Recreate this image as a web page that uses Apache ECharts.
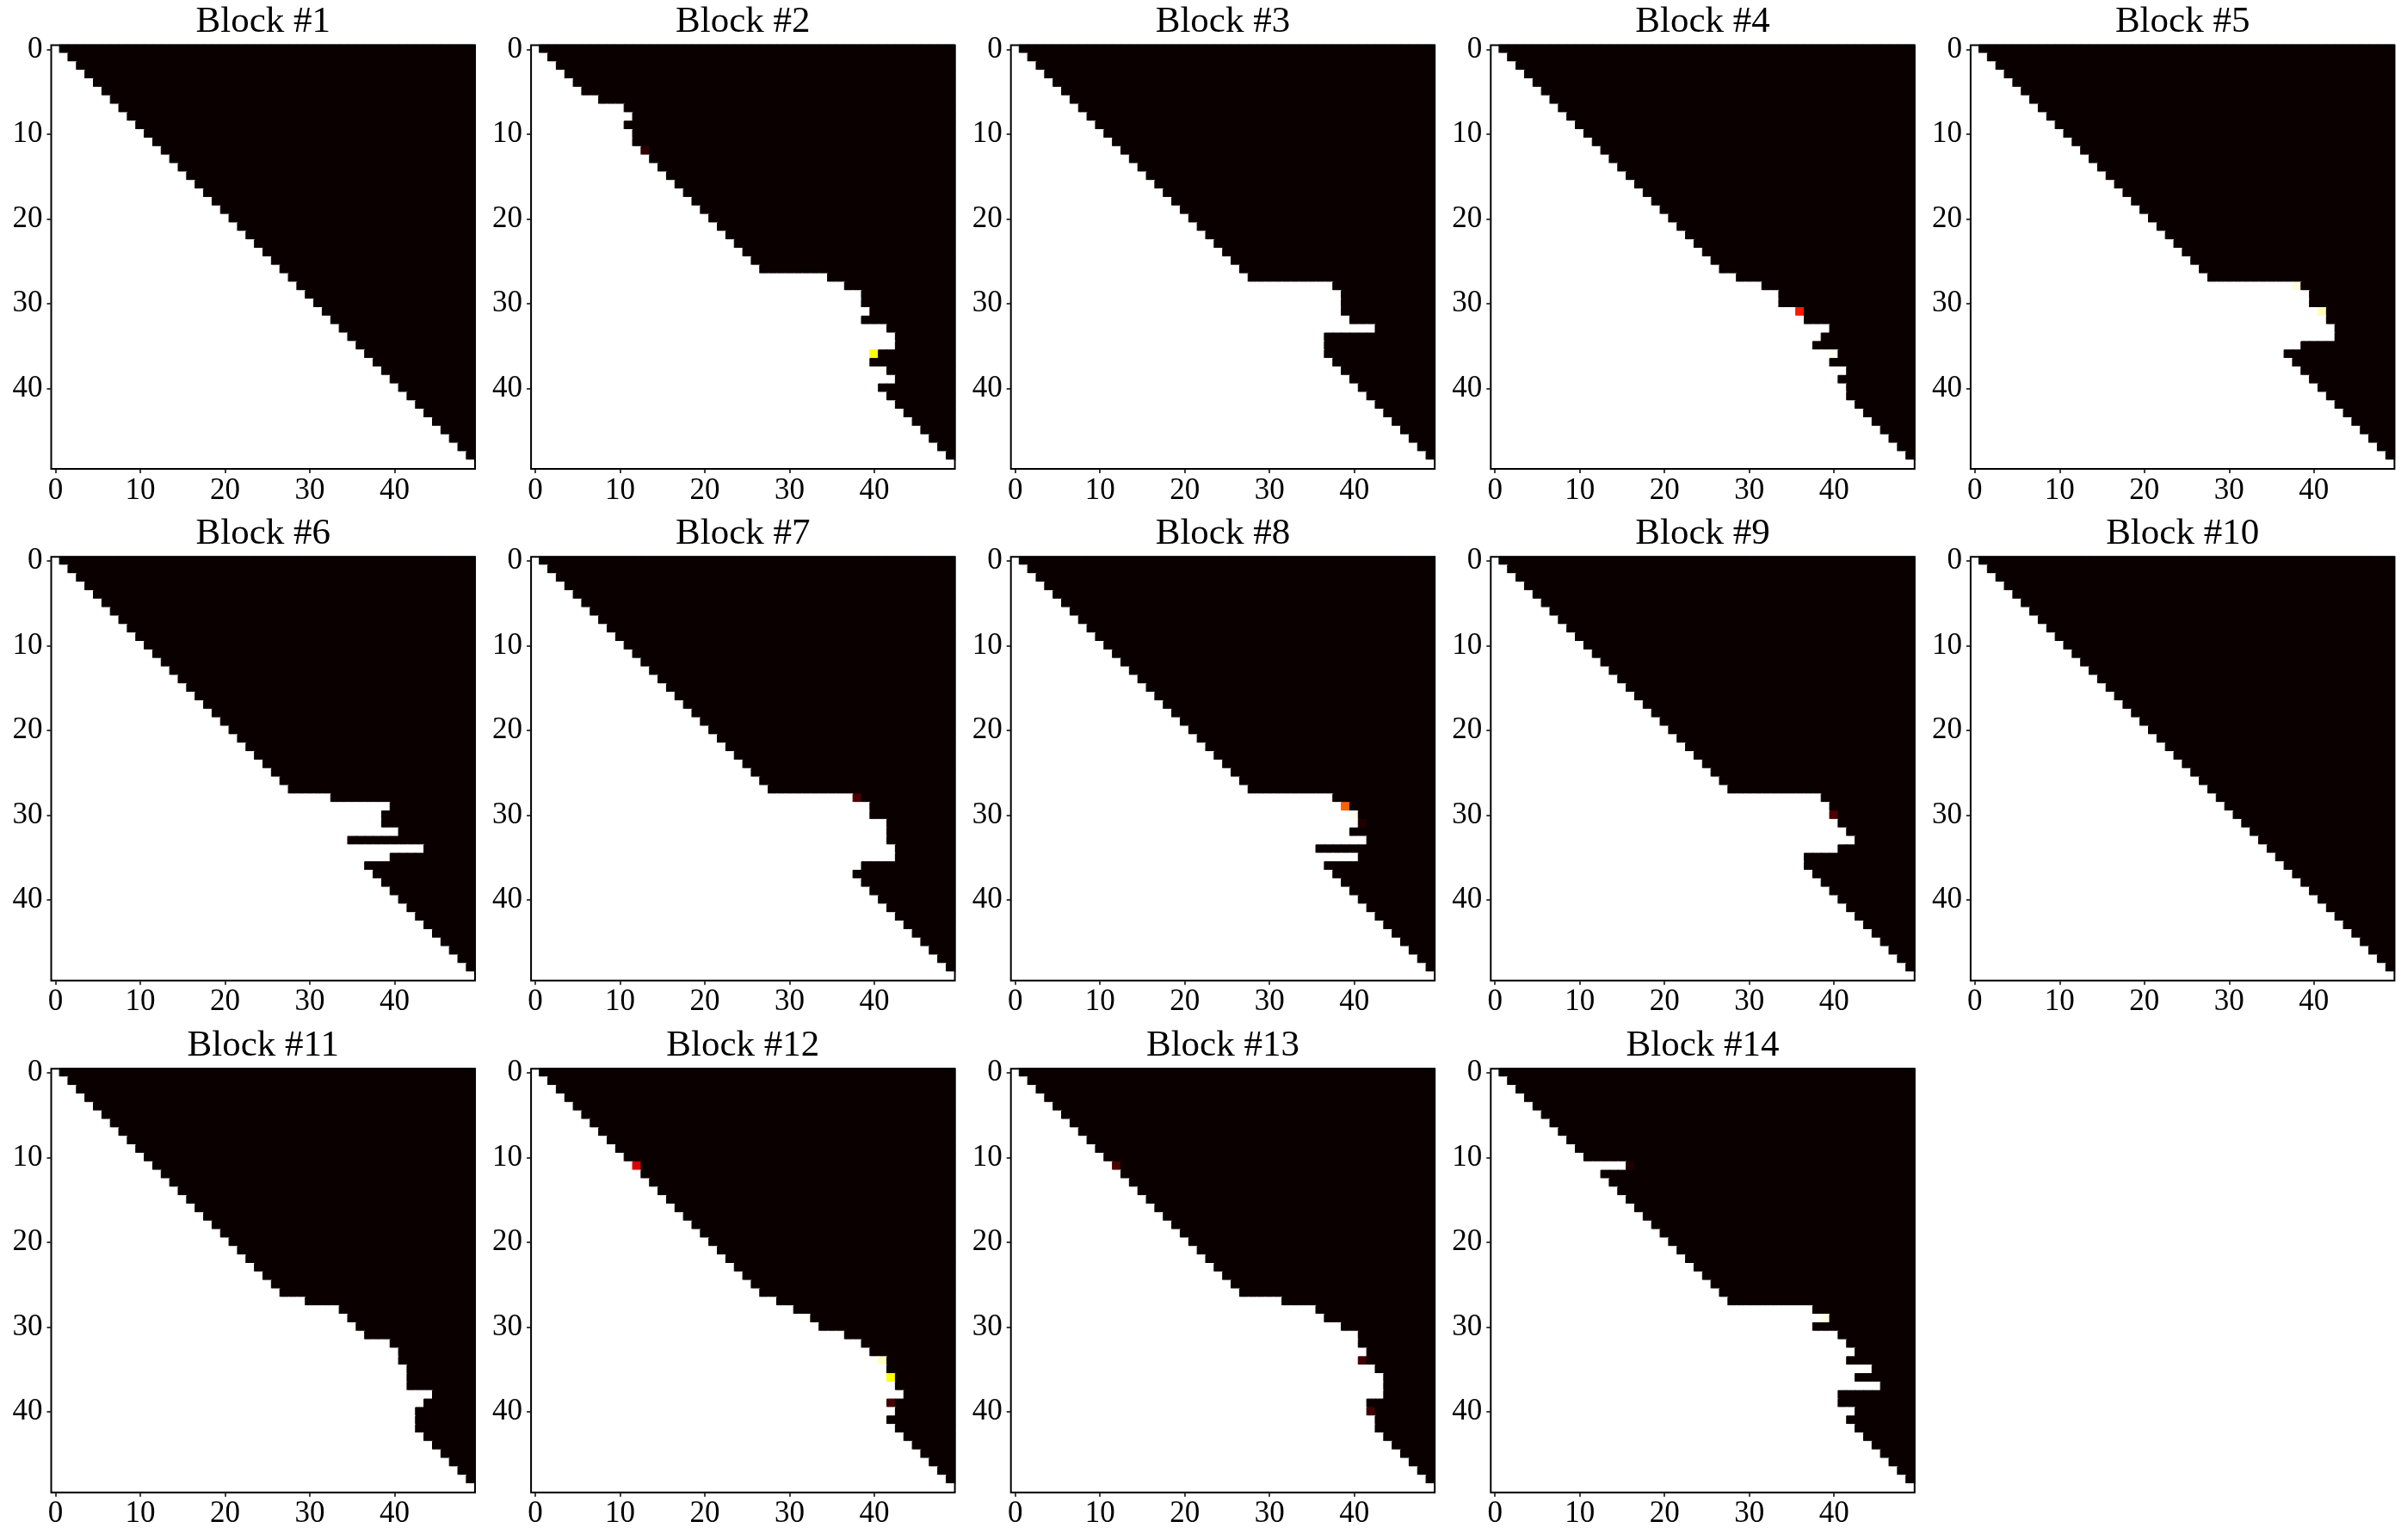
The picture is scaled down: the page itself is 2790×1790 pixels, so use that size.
<!DOCTYPE html>
<html>
<head>
<meta charset="utf-8">
<script src="https://cdn.jsdelivr.net/npm/echarts@6/dist/echarts.min.js"></script>
<style>
  html, body { margin: 0; padding: 0; background: #fff; }
  #chart { width: 2790px; height: 1790px; }
</style>
</head>
<body>
<div id="chart"></div>
<script>
const categories = ['0','1','2','3','4','5','6','7','8','9','10','11','12','13','14','15','16','17','18','19',
  '20','21','22','23','24','25','26','27','28','29','30','31','32','33','34','35','36','37','38','39',
  '40','41','42','43','44','45','46','47','48','49'];
const tickLabels = ['0', '10', '20', '30', '40'];
const blockTitles = ['Block #1', 'Block #2', 'Block #3', 'Block #4', 'Block #5', 'Block #6', 'Block #7',
  'Block #8', 'Block #9', 'Block #10', 'Block #11', 'Block #12', 'Block #13', 'Block #14'];

// per row: number of leading cells equal to 1 (the rest of the row is 0)
const block1Ends = [1,2,3,4,5,6,7,8,9,10, 11,12,13,14,15,16,17,18,19,20, 21,22,23,24,25,26,27,28,29,30, 31,32,33,34,35,36,37,38,39,40, 41,42,43,44,45,46,47,48,49,50];
const block2Ends = [1,2,3,4,5,6,8,11,12,11, 12,12,13,14,15,16,17,18,19,20, 21,22,23,24,25,26,27,35,37,39, 39,40,39,42,43,43,40,40,42,43, 41,42,43,44,45,46,47,48,49,50];
const block3Ends = [1,2,3,4,5,6,7,8,9,10, 11,12,13,14,15,16,17,18,19,20, 21,22,23,24,25,26,27,28,38,39, 39,39,40,43,37,37,37,38,39,40, 41,42,43,44,45,46,47,48,49,50];
const block4Ends = [1,2,3,4,5,6,7,8,9,10, 11,12,13,14,15,16,17,18,19,20, 21,22,23,24,25,26,27,29,32,34, 34,36,37,40,39,38,40,40,42,41, 42,42,43,44,45,46,47,48,49,50];
const block5Ends = [1,2,3,4,5,6,7,8,9,10, 11,12,13,14,15,16,17,18,19,20, 21,22,23,24,25,26,27,28,38,40, 40,41,42,43,43,39,37,38,39,40, 41,42,43,44,45,46,47,48,49,50];
const block6Ends = [1,2,3,4,5,6,7,8,9,10, 11,12,13,14,15,16,17,18,19,20, 21,22,23,24,25,26,27,28,33,40, 39,39,41,35,44,40,37,38,39,40, 41,42,43,44,45,46,47,48,49,50];
const block7Ends = [1,2,3,4,5,6,7,8,9,10, 11,12,13,14,15,16,17,18,19,20, 21,22,23,24,25,26,27,28,38,40, 40,42,42,42,43,43,39,38,39,40, 41,42,43,44,45,46,47,48,49,50];
const block8Ends = [1,2,3,4,5,6,7,8,9,10, 11,12,13,14,15,16,17,18,19,20, 21,22,23,24,25,26,27,28,38,39, 40,41,40,42,36,41,37,38,39,40, 41,42,43,44,45,46,47,48,49,50];
const block9Ends = [1,2,3,4,5,6,7,8,9,10, 11,12,13,14,15,16,17,18,19,20, 21,22,23,24,25,26,27,28,39,40, 40,41,42,43,41,37,37,38,39,40, 41,42,43,44,45,46,47,48,49,50];
const block10Ends = [1,2,3,4,5,6,7,8,9,10, 11,12,13,14,15,16,17,18,19,20, 21,22,23,24,25,26,27,28,29,30, 31,32,33,34,35,36,37,38,39,40, 41,42,43,44,45,46,47,48,49,50];
const block11Ends = [1,2,3,4,5,6,7,8,9,10, 11,12,13,14,15,16,17,18,19,20, 21,22,23,24,25,26,27,30,34,35, 36,37,40,41,41,42,42,42,45,44, 43,43,43,44,45,46,47,48,49,50];
const block12Ends = [1,2,3,4,5,6,7,8,9,10, 11,12,13,14,15,16,17,18,19,20, 21,22,23,24,25,26,27,29,31,32, 34,37,39,40,41,42,42,43,44,42, 43,42,43,44,45,46,47,48,49,50];
const block13Ends = [1,2,3,4,5,6,7,8,9,10, 11,12,13,14,15,16,17,18,19,20, 21,22,23,24,25,26,27,32,36,37, 39,41,41,42,41,43,44,44,44,42, 42,43,43,44,45,46,47,48,49,50];
const block14Ends = [1,2,3,4,5,6,7,8,9,10, 11,16,13,14,15,16,17,18,19,20, 21,22,23,24,25,26,27,28,38,39, 38,41,42,43,42,45,43,46,41,41, 43,42,43,44,45,46,47,48,49,50];

// cells with in-between values: [col, row, value]
const block1Cells = [];
const block2Cells = [[13, 12, 0.05], [40, 36, 0.75]];
const block3Cells = [];
const block4Cells = [[36, 31, 0.40], [40, 36, 0.985]];
const block5Cells = [[38, 28, 0.97], [41, 31, 0.93]];
const block6Cells = [];
const block7Cells = [[38, 28, 0.10]];
const block8Cells = [[39, 29, 0.51], [40, 30, 0.985], [41, 31, 0.03]];
const block9Cells = [[40, 30, 0.10]];
const block10Cells = [];
const block11Cells = [];
const block12Cells = [[12, 11, 0.31], [32, 29, 0.99], [41, 34, 0.94], [42, 36, 0.75], [42, 39, 0.08]];
const block13Cells = [[12, 11, 0.10], [41, 34, 0.08], [42, 40, 0.08]];
const block14Cells = [[16, 11, 0.03], [39, 29, 0.97]];

const blockEnds = [block1Ends, block2Ends, block3Ends, block4Ends, block5Ends, block6Ends, block7Ends,
  block8Ends, block9Ends, block10Ends, block11Ends, block12Ends, block13Ends, block14Ends];
const blockCells = [block1Cells, block2Cells, block3Cells, block4Cells, block5Cells, block6Cells, block7Cells,
  block8Cells, block9Cells, block10Cells, block11Cells, block12Cells, block13Cells, block14Cells];

const FONT = 'Liberation Serif';
const LEFT0 = 59.5, STEP_X = 557.6, TOP0 = 52.4, STEP_Y = 594.9, SIZE = 492.5;

// matplotlib "hot" colormap as colour stops
function hot(t) {
  const r = Math.min(1, 0.0416 + t / 0.365079 * (1 - 0.0416));
  const g = Math.min(1, Math.max(0, (t - 0.365079) / (0.746032 - 0.365079)));
  const b = Math.min(1, Math.max(0, (t - 0.746032) / (1 - 0.746032)));
  return 'rgb(' + Math.round(r * 255) + ',' + Math.round(g * 255) + ',' + Math.round(b * 255) + ')';
}
const hotColors = [];
for (let k = 0; k <= 64; k++) hotColors.push(hot(k / 64));

function buildCells(ends, extras) {
  const cells = [];
  ends.forEach(function (end, row) {
    categories.forEach(function (c, col) {
      cells.push([col, row, col < end ? 1 : 0]);
    });
  });
  extras.forEach(function (e) {
    cells[e[1] * categories.length + e[0]][2] = e[2];
  });
  // a hairline border in the cell's own colour hides the seams between cells
  return cells.map(function (v) {
    return { value: v, itemStyle: { borderColor: hot(v[2]), borderWidth: 1 } };
  });
}

const showTick = function (index, value) { return tickLabels.indexOf(value) >= 0; };

const chart = echarts.init(document.getElementById('chart'), null, { renderer: 'canvas' });

const titles = [], grids = [], xAxes = [], yAxes = [], series = [];
blockTitles.forEach(function (name, i) {
  const left = LEFT0 + STEP_X * (i % 5);
  const top = TOP0 + STEP_Y * Math.floor(i / 5);
  titles.push({
    text: name,
    left: left + SIZE / 2,
    top: top - 48,
    textAlign: 'center',
    padding: 0,
    textStyle: { fontFamily: FONT, fontSize: 43, fontWeight: 'normal', color: '#000' }
  });
  grids.push({
    left: left, top: top, width: SIZE, height: SIZE,
    show: true, z: 5,
    backgroundColor: 'transparent',
    borderColor: '#000', borderWidth: 2
  });
  xAxes.push({
    type: 'category', gridIndex: i, data: categories, position: 'bottom',
    axisLine: { show: false },
    axisTick: { show: true, alignWithLabel: true, interval: showTick, length: 5, lineStyle: { color: '#000', width: 1.5 } },
    axisLabel: { interval: showTick, margin: 8, fontFamily: FONT, fontSize: 35, color: '#000' },
    splitLine: { show: false }
  });
  yAxes.push({
    type: 'category', gridIndex: i, data: categories, inverse: true,
    axisLine: { show: false },
    axisTick: { show: true, alignWithLabel: true, interval: showTick, length: 5, lineStyle: { color: '#000', width: 1.5 } },
    axisLabel: { interval: showTick, margin: 10, fontFamily: FONT, fontSize: 35, color: '#000' },
    splitLine: { show: false }
  });
  series.push({
    type: 'heatmap', name: name,
    xAxisIndex: i, yAxisIndex: i,
    data: buildCells(blockEnds[i], blockCells[i]),
    progressive: 0,
    emphasis: { disabled: true }
  });
});

chart.setOption({
  animation: false,
  backgroundColor: '#fff',
  title: titles,
  grid: grids,
  xAxis: xAxes,
  yAxis: yAxes,
  visualMap: {
    type: 'continuous', show: false, min: 0, max: 1, dimension: 2,
    seriesIndex: series.map(function (s, i) { return i; }),
    inRange: { color: hotColors }
  },
  series: series
});
</script>
</body>
</html>
